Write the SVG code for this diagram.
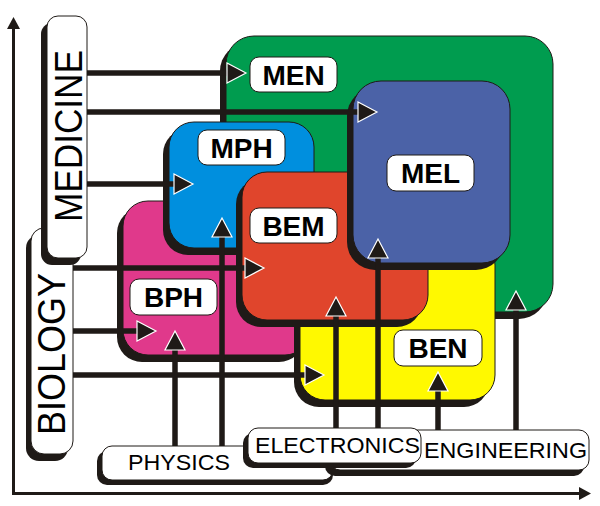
<svg xmlns="http://www.w3.org/2000/svg" width="600" height="506" viewBox="0 0 600 506">
<style>
.sh{fill:#1f1a17}
.bx{stroke:#1f1a17;stroke-width:1}
.wb{fill:#ffffff;stroke:#1f1a17;stroke-width:1}
.lb{font-family:"Liberation Sans",Arial,sans-serif;font-weight:bold;font-size:28px;fill:#000;text-anchor:middle}
.ct{font-family:"Liberation Sans",Arial,sans-serif;font-size:22px;fill:#000;text-anchor:middle}
.vt{font-family:"Liberation Sans",Arial,sans-serif;font-size:39px;fill:#000;text-anchor:middle}
.ln{stroke:#1f1a17;stroke-width:5.5;fill:none}
.hd{fill:#1f1a17;stroke:#ffffff;stroke-width:1.2}
.ax{stroke:#1f1a17;stroke-width:3;fill:none}
</style>
<defs>
<path id="ah" d="M0,0 L-19,-10 L-19,10 Z"/>
</defs>
<rect width="600" height="506" fill="#ffffff"/>
<g id="axes">
<line class="ax" x1="13.5" y1="494" x2="13.5" y2="26"/>
<path d="M7,29 L13.5,17 L20,29 Z" fill="#1f1a17"/>
<line class="ax" x1="12" y1="493.5" x2="582" y2="493.5"/>
<path d="M579,487 L591,493.5 L579,500 Z" fill="#1f1a17"/>
</g>
<g id="MEN">
<rect class="sh" x="220" y="43" width="327" height="276" rx="28"/>
<rect class="bx" x="226" y="36" width="327" height="276" rx="28" fill="#009c4f"/>
<rect class="wb" x="250" y="57" width="87" height="35" rx="9"/>
<text class="lb" x="293.5" y="84.5">MEN</text>
</g>
<g id="BPH">
<rect class="sh" x="117" y="208" width="187" height="154" rx="25"/>
<rect class="bx" x="123" y="201" width="187" height="154" rx="25" fill="#e0398b"/>
<rect class="wb" x="130" y="279" width="87" height="36" rx="9"/>
<text class="lb" x="173.5" y="307">BPH</text>
</g>
<g id="MPH">
<rect class="sh" x="163" y="129" width="145" height="126" rx="25"/>
<rect class="bx" x="169" y="122" width="145" height="126" rx="25" fill="#008fde"/>
<rect class="wb" x="198" y="130" width="87" height="35" rx="9"/>
<text class="lb" x="241.5" y="157.5">MPH</text>
</g>
<g id="BEN">
<rect class="sh" x="294" y="247" width="195" height="160" rx="25"/>
<rect class="bx" x="300" y="240" width="195" height="160" rx="25" fill="#fff900"/>
<rect class="wb" x="394" y="330" width="88" height="36" rx="9"/>
<text class="lb" x="438" y="358">BEN</text>
</g>
<g id="BEM">
<rect class="sh" x="236" y="179" width="186" height="148" rx="25"/>
<rect class="bx" x="242" y="172" width="186" height="148" rx="25" fill="#e0452c"/>
<rect class="wb" x="250" y="208" width="87" height="35" rx="9"/>
<text class="lb" x="293.5" y="235.5">BEM</text>
</g>
<g id="MEL">
<rect class="sh" x="347" y="88" width="157" height="182" rx="28"/>
<rect class="bx" x="353" y="81" width="157" height="182" rx="28" fill="#4b62a7"/>
<rect class="wb" x="387" y="155" width="87" height="36" rx="9"/>
<text class="lb" x="430.5" y="183">MEL</text>
</g>
<g id="connectors">
<line class="ln" x1="85" y1="73" x2="230" y2="73"/>
<line class="ln" x1="85" y1="112" x2="361" y2="112"/>
<line class="ln" x1="85" y1="184" x2="177" y2="184"/>
<line class="ln" x1="70" y1="268" x2="248" y2="268"/>
<line class="ln" x1="70" y1="331" x2="140" y2="331"/>
<line class="ln" x1="70" y1="375" x2="308" y2="375"/>
<line class="ln" x1="175" y1="448" x2="175" y2="347"/>
<line class="ln" x1="222" y1="448" x2="222" y2="234"/>
<line class="ln" x1="336" y1="430" x2="336" y2="313"/>
<line class="ln" x1="378" y1="430" x2="378" y2="255"/>
<line class="ln" x1="438" y1="432" x2="438" y2="388"/>
<line class="ln" x1="516" y1="432" x2="516" y2="307"/>
<use href="#ah" class="hd" transform="translate(246,73)"/>
<use href="#ah" class="hd" transform="translate(377,112)"/>
<use href="#ah" class="hd" transform="translate(193,184)"/>
<use href="#ah" class="hd" transform="translate(264,268)"/>
<use href="#ah" class="hd" transform="translate(156,331)"/>
<use href="#ah" class="hd" transform="translate(324,375)"/>
<use href="#ah" class="hd" transform="translate(175,331) rotate(-90)"/>
<use href="#ah" class="hd" transform="translate(222,218) rotate(-90)"/>
<use href="#ah" class="hd" transform="translate(336,297) rotate(-90)"/>
<use href="#ah" class="hd" transform="translate(378,239) rotate(-90)"/>
<use href="#ah" class="hd" transform="translate(438,372) rotate(-90)"/>
<use href="#ah" class="hd" transform="translate(516,291) rotate(-90)"/>
</g>
<g id="BIOLOGY">
<rect class="sh" x="26" y="235" width="42" height="226" rx="13"/>
<rect class="wb" x="31" y="228" width="42" height="226" rx="13"/>
<text class="vt" transform="translate(65,354) rotate(-90)" textLength="162" lengthAdjust="spacingAndGlyphs">BIOLOGY</text>
</g>
<g id="MEDICINE">
<rect class="sh" x="41" y="23" width="40" height="242" rx="11"/>
<rect class="wb" x="47" y="16" width="40" height="242" rx="11"/>
<text class="vt" transform="translate(82,136) rotate(-90)" textLength="172" lengthAdjust="spacingAndGlyphs">MEDICINE</text>
</g>
<g id="PHYSICS">
<rect class="sh" x="97" y="451" width="236" height="34" rx="10"/>
<rect class="wb" x="102" y="446" width="231" height="34" rx="10"/>
<text class="ct" x="179" y="470" textLength="102" lengthAdjust="spacingAndGlyphs">PHYSICS</text>
</g>
<g id="ENGINEERING">
<rect class="sh" x="325" y="436" width="259" height="40" rx="10"/>
<rect class="wb" x="330" y="430" width="259" height="40" rx="10"/>
<text class="ct" x="505.5" y="458" textLength="163" lengthAdjust="spacingAndGlyphs">ENGINEERING</text>
</g>
<g id="ELECTRONICS">
<rect class="sh" x="243" y="433" width="173" height="35" rx="10"/>
<rect class="wb" x="248" y="428" width="173" height="35" rx="10"/>
<text class="ct" x="337.5" y="453" textLength="165" lengthAdjust="spacingAndGlyphs">ELECTRONICS</text>
</g>
</svg>
